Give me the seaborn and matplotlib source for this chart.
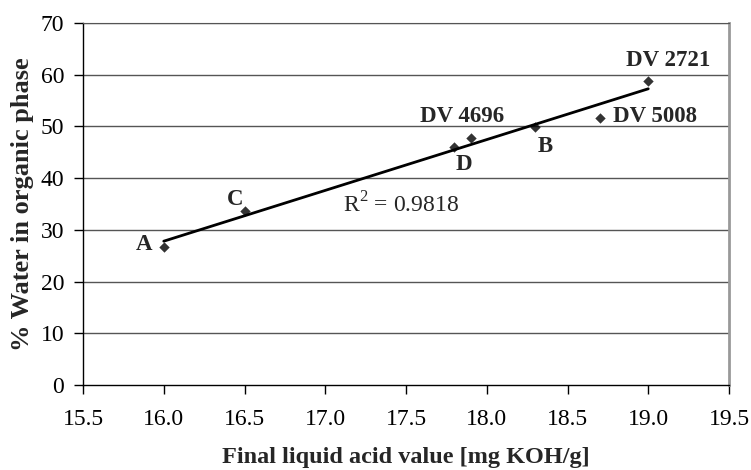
import matplotlib
matplotlib.use("Agg")
import matplotlib.pyplot as plt
import seaborn as sns
import numpy as np
import pandas as pd

labels = ["A", "C", "D", "DV 4696", "B", "DV 5008", "DV 2721"]
acid_value = [16.0, 16.5, 17.8, 17.9, 18.3, 18.7, 19.0]
water_pct = [26.7, 33.7, 46.1, 47.7, 49.8, 51.7, 58.8]
x_ticks = [15.5, 16.0, 16.5, 17.0, 17.5, 18.0, 18.5, 19.0, 19.5]
y_ticks = [0, 10, 20, 30, 40, 50, 60, 70]
r2_text = "R$^2$ = 0.9818"

df = pd.DataFrame({"x": acid_value, "y": water_pct, "label": labels})

sns.set_style("white")
plt.rcParams["font.family"] = ["Liberation Serif", "DejaVu Serif"]
plt.rcParams["mathtext.fontset"] = "custom"
plt.rcParams["mathtext.rm"] = "Liberation Serif"

fig = plt.figure(figsize=(7.51, 4.70), dpi=100)
ax = fig.add_axes([83/751, 1 - 385/470, (729-83)/751, (385-23)/470])

for yv in y_ticks[1:]:
    ax.axhline(yv, color="#555555", lw=1.0, zorder=0)

sns.regplot(data=df, x="x", y="y", ax=ax, ci=None, marker="D",
            scatter_kws=dict(s=28, color="black", linewidths=0, zorder=3),
            line_kws=dict(color="black", lw=2.0))

# offsets in points: dx, dy, ha (text anchored at baseline)
offsets = {
    "A": (-8, -2, "right"),
    "C": (-1, 4, "right"),
    "D": (7, -16.5, "center"),
    "DV 4696": (24, 11.5, "right"),
    "B": (7, -18, "center"),
    "DV 5008": (9.4, -3, "left"),
    "DV 2721": (-16, 11, "left"),
}
for lab, xv, yv in zip(labels, acid_value, water_pct):
    dx, dy, ha = offsets[lab]
    ax.annotate(lab, (xv, yv), xytext=(dx, dy), textcoords="offset points",
                ha=ha, va="baseline", fontsize=16.5, fontweight="bold")

ax.text(17.11, 33.3, r2_text, fontsize=17, ha="left", va="baseline")

ax.set_xlim(15.5, 19.5)
ax.set_ylim(0, 70)
ax.set_xticks(x_ticks)
ax.set_xticklabels([f"{v:.1f}" for v in x_ticks])
ax.set_yticks(y_ticks)
ax.tick_params(axis="both", direction="out", length=6.5, width=1, colors="black",
               labelsize=17, left=True, bottom=True)
ax.tick_params(axis="x", pad=11)
ax.tick_params(axis="y", pad=7)

for s in ["left", "bottom"]:
    ax.spines[s].set_color("black")
    ax.spines[s].set_linewidth(1.0)
ax.spines["right"].set_color("#999999")
ax.spines["right"].set_linewidth(2.0)
ax.spines["top"].set_color("#555555")

ax.set_xlabel("Final liquid acid value [mg KOH/g]", fontsize=17.5, fontweight="bold", labelpad=12)
ax.set_ylabel("% Water in organic phase", fontsize=19, fontweight="bold", labelpad=5)

fig.savefig("out.png", dpi=100)
